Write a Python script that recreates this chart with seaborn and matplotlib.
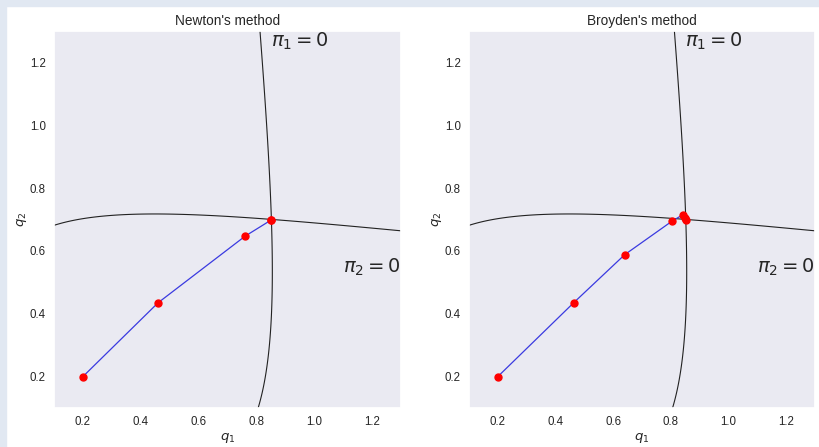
import numpy as np
import matplotlib
matplotlib.use("Agg")
import matplotlib.pyplot as plt
import seaborn as sns
from matplotlib.patches import Rectangle

# Cournot duopoly model parameters (contours of the first-order conditions)
cost = [0.586, 0.779]
eta = 1.6

# Iterates
newton_q1 = [0.20, 0.460, 0.761, 0.852, 0.852]
newton_q2 = [0.20, 0.435, 0.647, 0.699, 0.699]
broyden_q1 = [0.20, 0.463, 0.640, 0.803, 0.841, 0.850, 0.852]
broyden_q2 = [0.20, 0.435, 0.588, 0.694, 0.715, 0.704, 0.700]

titles = ["Newton's method", "Broyden's method"]
xlim = (0.1, 1.3)
ticks = [0.2, 0.4, 0.6, 0.8, 1.0, 1.2]

sns.set_theme(style="dark")
plt.rcParams['font.family'] = ['Liberation Sans', 'DejaVu Sans']

fig = plt.figure(figsize=(8.2, 4.47), dpi=100, facecolor='white')
# light page border
fig.patches.append(Rectangle((0, 0), 6/820, 1, transform=fig.transFigure,
                             color='#e1e8f2', zorder=-10))
fig.patches.append(Rectangle((0, 1 - 6/447), 1, 6/447, transform=fig.transFigure,
                             color='#e1e8f2', zorder=-10))

ax1 = fig.add_axes([54/820, 1 - 408/447, 347/820, 377/447])
ax2 = fig.add_axes([469/820, 1 - 408/447, 346/820, 377/447])

grid = np.linspace(xlim[0], xlim[1], 400)
Q1, Q2 = np.meshgrid(grid, grid)
e = -1.0 / eta
S = Q1 + Q2
pi1 = S**e + e * S**(e - 1) * Q1 - cost[0] * Q1
pi2 = S**e + e * S**(e - 1) * Q2 - cost[1] * Q2

paths = [(newton_q1, newton_q2), (broyden_q1, broyden_q2)]
for ax, title, (px, py) in zip([ax1, ax2], titles, paths):
    ax.contour(Q1, Q2, pi1, levels=[0], colors='#222222', linewidths=0.8)
    ax.contour(Q1, Q2, pi2, levels=[0], colors='#222222', linewidths=0.8)
    ax.plot(px, py, color='#3a3ae0', lw=0.9, zorder=3)
    ax.plot(px, py, 'o', color='red', ms=5, zorder=4)
    ax.set_xlim(*xlim)
    ax.set_ylim(*xlim)
    ax.set_xticks(ticks)
    ax.set_yticks(ticks)
    ax.tick_params(labelsize=8.3, colors='#262626', length=0, pad=5.8)
    ax.set_xlabel('$q_1$', fontsize=9.5, labelpad=2)
    ax.set_ylabel('$q_2$', fontsize=9.5, labelpad=0.5)
    ax.set_title(title, fontsize=9.8, pad=4)
    ax.text(0.85, 1.25, r'$\pi_1 = 0$', fontsize=14)
    ax.text(1.1, 0.53, r'$\pi_2 = 0$', fontsize=14)
    ax.grid(False)

fig.savefig('out.png', dpi=100, facecolor='white')
